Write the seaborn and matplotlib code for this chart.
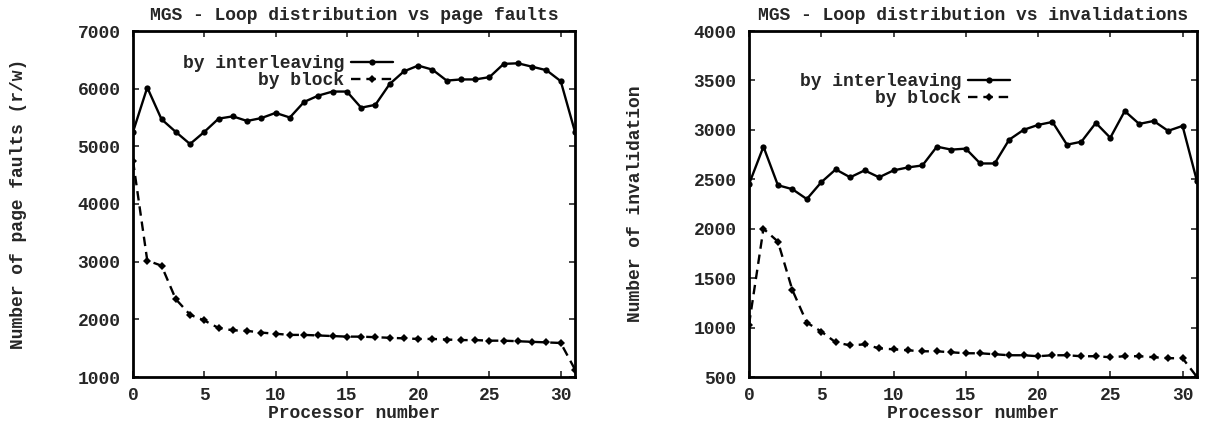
import numpy as np
import pandas as pd
import matplotlib
matplotlib.use("Agg")
import matplotlib.pyplot as plt
import seaborn as sns

processors = list(range(32))

pf_interleave = [5250, 6020, 5470, 5250, 5040, 5250, 5480, 5520, 5440, 5490, 5580, 5500,
                 5770, 5880, 5950, 5950, 5670, 5720, 6080, 6300, 6400, 6330, 6140, 6160,
                 6160, 6200, 6430, 6440, 6380, 6320, 6130, 5250]
pf_block = [4750, 3020, 2930, 2350, 2080, 1980, 1850, 1810, 1800, 1770, 1750, 1730,
            1730, 1720, 1710, 1700, 1700, 1690, 1680, 1670, 1660, 1660, 1650, 1640,
            1640, 1630, 1630, 1620, 1610, 1600, 1590, 1130]

inv_interleave = [2450, 2830, 2440, 2400, 2300, 2470, 2600, 2520, 2590, 2520, 2590, 2620,
                  2640, 2830, 2800, 2810, 2660, 2660, 2900, 3000, 3050, 3080, 2850, 2880,
                  3070, 2920, 3190, 3060, 3090, 2990, 3040, 2480]
inv_block = [1030, 2000, 1870, 1380, 1050, 960, 850, 820, 830, 790, 780, 770,
             760, 760, 750, 740, 740, 730, 720, 720, 710, 720, 720, 710,
             710, 700, 710, 710, 700, 690, 690, 500]

series_names = ["by interleaving", "by block"]
titles = ["MGS - Loop distribution vs page faults", "MGS - Loop distribution vs invalidations"]
ylabels = ["Number of page faults (r/w)", "Number of invalidation"]
xlabel = "Processor number"
xticks = [0, 5, 10, 15, 20, 25, 30]
yticks_left = [1000, 2000, 3000, 4000, 5000, 6000, 7000]
yticks_right = [500, 1000, 1500, 2000, 2500, 3000, 3500, 4000]

sns.set_theme(style="ticks")
plt.rcParams['font.family'] = ['Liberation Mono', 'DejaVu Sans Mono']
plt.rcParams['font.weight'] = 'bold'
plt.rcParams['axes.labelweight'] = 'bold'
plt.rcParams['axes.titleweight'] = 'bold'

FS = 13

fig = plt.figure(figsize=(12.07, 4.28), dpi=100)
ax1 = fig.add_axes([133/1207, 1 - 377/428, 442/1207, 346/428])
ax2 = fig.add_axes([749/1207, 1 - 377/428, 448/1207, 346/428])

def make_df(a, b):
    return pd.DataFrame({
        "x": processors * 2,
        "y": a + b,
        "series": [series_names[0]] * len(a) + [series_names[1]] * len(b),
    })

panels = [
    (ax1, make_df(pf_interleave, pf_block), yticks_left, (393/1207, 1 - 55/428), 36),
    (ax2, make_df(inv_interleave, inv_block), yticks_right, (1010/1207, 1 - 73/428), 36),
]

for i, (ax, df, yt, legpos, ylp) in enumerate(panels):
    sns.lineplot(data=df, x="x", y="y", style="series", hue="series",
                 palette=["black", "black"], dashes={series_names[0]: "", series_names[1]: (4, 2.5)},
                 markers={series_names[0]: "o", series_names[1]: "D"},
                 markersize=4.5, markeredgewidth=0, linewidth=1.7, ax=ax)
    ax.set_xlim(0, 31)
    ax.set_ylim(yt[0], yt[-1])
    ax.set_xticks(xticks)
    ax.set_yticks(yt)
    ax.set_title(titles[i], fontsize=FS, fontweight='bold', pad=8)
    ax.set_xlabel(xlabel, fontsize=FS, fontweight='bold', labelpad=1)
    ax.set_ylabel(ylabels[i], fontsize=FS, fontweight='bold', labelpad=ylp)
    ax.tick_params(axis='x', direction='in', top=True, length=4, width=1.2,
                   labelsize=FS, pad=7)
    ax.tick_params(axis='y', direction='in', right=True, length=4, width=1.2,
                   labelsize=FS, pad=9)
    for lab in ax.get_xticklabels() + ax.get_yticklabels():
        lab.set_fontweight('bold')
    for s in ax.spines.values():
        s.set_linewidth(2)
        s.set_color('black')
    h, l = ax.get_legend_handles_labels()
    ax.legend(h, l, loc='upper right', bbox_to_anchor=legpos, bbox_transform=fig.transFigure,
              frameon=False, markerfirst=False, handlelength=2.3,
              borderpad=0, borderaxespad=0, labelspacing=0.0, handletextpad=0.4,
              prop={'family': ['Liberation Mono'], 'weight': 'bold', 'size': FS})
    leg = ax.get_legend()
    leg._legend_box.align = "right"

fig.savefig("out.png", dpi=100)
